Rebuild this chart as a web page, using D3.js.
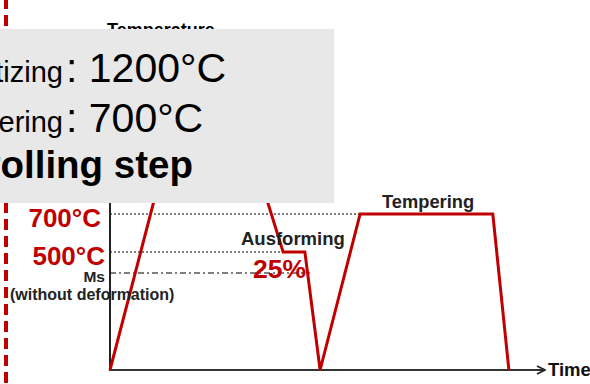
<!DOCTYPE html>
<html><head><meta charset="utf-8">
<script src="https://cdn.jsdelivr.net/npm/d3@7"></script>
<style>
html,body{margin:0;padding:0;background:#fff;overflow:hidden;}
svg{display:block;font-family:"Liberation Sans",Arial,sans-serif;}
</style></head>
<body>
<svg id="c" width="590" height="384"></svg>
<script>
// Schematic thermo-mechanical process (time in arbitrary units, temperature in °C)
const times = [0, 15, 30.3, 39.8, 44.8, 48.3, 57.5, 88, 91.7];
const temps = [25, 1200, 1200, 500, 500, 25, 700, 700, 25];
// Reference levels (schematic scale is non-linear)
const levelTemps = [25, 350, 500, 700, 1200];
const levelLabels = ["", "Ms", "500°C", "700°C", "1200°C"];
const guideLines = [ {temp: 700, tEnd: 57.5, style: "dot"}, {temp: 500, tEnd: 39.8, style: "dot"}, {temp: 350, tEnd: 46, style: "dashdot"} ];
const boxLines = [
  {small: "Austenitizing", big: ": 1200°C"},
  {small: "Tempering", big: ": 700°C"}
];
const boxTitle = "Controlling step";

const red = "#c00000";
const svg = d3.select("#c");

const x = d3.scaleLinear().domain([0, 100]).range([110, 545]);
const y = d3.scaleLinear().domain(levelTemps).range([370, 273, 252, 214, 119]);

// red dashed vertical line at far left
svg.append("line").attr("x1", 6).attr("x2", 6).attr("y1", -2).attr("y2", 384)
  .attr("stroke", red).attr("stroke-width", 4).attr("stroke-dasharray", "11,6");

// guide lines
guideLines.forEach(g => {
  svg.append("line").attr("x1", x(0)).attr("x2", x(g.tEnd))
    .attr("y1", y(g.temp)).attr("y2", y(g.temp))
    .attr("stroke", "#555").attr("stroke-width", 1.6)
    .attr("stroke-dasharray", g.style === "dot" ? "2,2" : "6,3,2,3");
});

// axes
const defs = svg.append("defs");
defs.append("marker").attr("id", "arr").attr("viewBox", "0 0 10 10").attr("refX", 9).attr("refY", 5)
  .attr("markerWidth", 5).attr("markerHeight", 5).attr("orient", "auto")
  .append("path").attr("d", "M1,1 L9,5 L1,9").attr("fill", "none").attr("stroke", "#222").attr("stroke-width", 1.6);

svg.append("line").attr("x1", x(0)).attr("x2", x(0)).attr("y1", 371).attr("y2", 40)
  .attr("stroke", "#222").attr("stroke-width", 2);
svg.append("line").attr("x1", x(0) - 1).attr("x2", x(100)).attr("y1", 370).attr("y2", 370)
  .attr("stroke", "#333").attr("stroke-width", 2).attr("marker-end", "url(#arr)");

// process line
const line = d3.line().x((d, i) => x(times[i])).y((d, i) => y(temps[i]));
svg.append("path").datum(temps).attr("d", line).attr("fill", "none")
  .attr("stroke", red).attr("stroke-width", 3).attr("stroke-linejoin", "miter");

// labels
svg.append("text").attr("x", 107).attr("y", 36).attr("font-size", 18).attr("font-weight", "bold").text("Temperature");
svg.append("text").attr("x", 101).attr("y", y(700) + 13).attr("text-anchor", "end").attr("font-size", 26)
  .attr("font-weight", "bold").attr("fill", red).text(levelLabels[3]);
svg.append("text").attr("x", 105).attr("y", y(500) + 13).attr("text-anchor", "end").attr("font-size", 26)
  .attr("font-weight", "bold").attr("fill", red).text(levelLabels[2]);
svg.append("text").attr("x", 105).attr("y", 282).attr("text-anchor", "end").attr("font-size", 15.5)
  .attr("font-weight", "bold").attr("fill", "#222").text(levelLabels[1]);
svg.append("text").attr("x", 10).attr("y", 300).attr("font-size", 16)
  .attr("font-weight", "bold").attr("fill", "#222").text("(without deformation)");
svg.append("text").attr("x", 241).attr("y", 245).attr("font-size", 18.5)
  .attr("font-weight", "bold").attr("fill", "#222").text("Ausforming");
svg.append("text").attr("x", 253).attr("y", 278).attr("font-size", 26.5)
  .attr("font-weight", "bold").attr("fill", red).text("25%");
svg.append("text").attr("x", 382).attr("y", 208).attr("font-size", 18.3)
  .attr("font-weight", "bold").attr("fill", "#222").text("Tempering");
svg.append("text").attr("x", 548).attr("y", 376).attr("font-size", 18.5)
  .attr("font-weight", "bold").attr("fill", "#111").text("Time");

// gray overlay box
const box = svg.append("g");
box.append("rect").attr("x", -2).attr("y", 29).attr("width", 336).attr("height", 174).attr("fill", "#e8e8e8");
const lineY = [82, 132];
boxLines.forEach((b, i) => {
  box.append("text").attr("x", 63).attr("y", lineY[i]).attr("text-anchor", "end")
    .attr("font-size", 29).attr("fill", "#000").text(b.small);
  box.append("text").attr("x", 66).attr("y", lineY[i]).attr("font-size", 41)
    .attr("fill", "#000").text(b.big);
});
box.append("text").attr("x", 193).attr("y", 178).attr("text-anchor", "end")
  .attr("font-size", 38.5).attr("font-weight", "bold").attr("fill", "#000").text(boxTitle);
</script>
</body></html>
